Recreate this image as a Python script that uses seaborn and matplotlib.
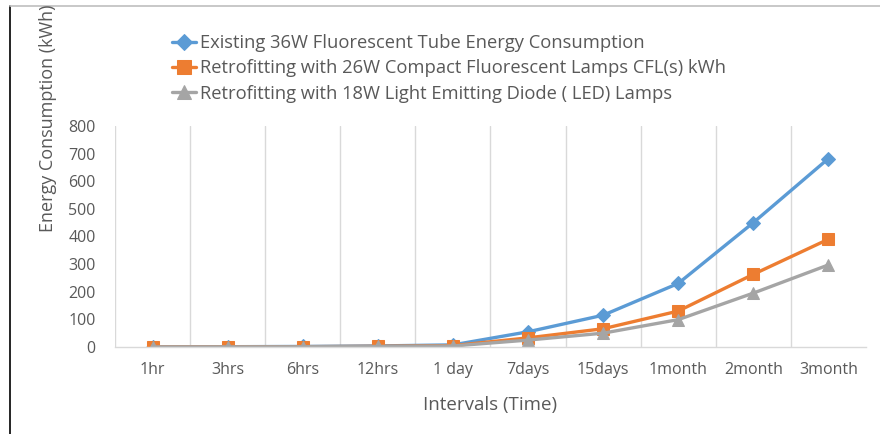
import numpy as np
import pandas as pd
import matplotlib
matplotlib.use("Agg")
import matplotlib.pyplot as plt
import seaborn as sns
from matplotlib.lines import Line2D

# Data
intervals = ['1hr', '3hrs', '6hrs', '12hrs', '1 day', '7days', '15days', '1month', '2month', '3month']
fluorescent_36w = [0.3, 1.0, 1.9, 3.8, 7.6, 55, 115, 230, 450, 682]
cfl_26w = [0.2, 0.6, 1.2, 2.4, 4.8, 33, 66, 130, 263, 390]
led_18w = [0.15, 0.45, 0.9, 1.8, 3.6, 25, 50, 99, 195, 297]

series_names = ['Existing 36W Fluorescent Tube Energy Consumption',
                'Retrofitting with 26W Compact Fluorescent Lamps CFL(s) kWh',
                'Retrofitting with 18W Light Emitting Diode ( LED) Lamps']
colors = ['#5B9BD5', '#ED7D31', '#A5A5A5']
markers = ['D', 's', '^']
marker_sizes = [7, 8.5, 8.5]

sns.set_style('white')
plt.rcParams['font.family'] = ['Open Sans', 'DejaVu Sans']

fig = plt.figure(figsize=(8.8, 4.34), dpi=100)
ax = fig.add_axes([0.1307, 0.2005, 0.8533, 0.5092])

x = np.arange(len(intervals))
for vals, name, c, m, ms in zip([fluorescent_36w, cfl_26w, led_18w], series_names,
                                colors, markers, marker_sizes):
    sns.lineplot(x=x, y=vals, ax=ax, color=c, marker=m, markersize=ms,
                 markeredgecolor=c, linewidth=2.4, label=name)

ax.set_xlim(-0.5, len(intervals) - 0.5)
ax.set_ylim(0, 800)
ax.set_yticks(range(0, 801, 100))
ax.set_xticks(x)
ax.set_xticklabels(intervals)
ax.tick_params(axis='both', length=0, colors='#595959', labelsize=11.5)
ax.tick_params(axis='x', pad=11)
ax.tick_params(axis='y', pad=14)

# vertical gridlines between categories
for b in np.arange(-0.5, len(intervals) - 1, 1.0):
    ax.axvline(b, color='#D9D9D9', linewidth=1, zorder=0)

for s in ['top', 'right', 'left']:
    ax.spines[s].set_visible(False)
ax.spines['bottom'].set_color('#D9D9D9')
ax.spines['bottom'].set_linewidth(1)

ax.set_xlabel('')
ax.set_ylabel('')
fig.text(490 / 880, 1 - 405 / 434, 'Intervals (Time)', ha='center', va='center',
         fontsize=13.5, color='#595959')
fig.text(48 / 880, 1 - 232 / 434, 'Energy Consumption (kWh)', rotation=90,
         ha='center', va='bottom', fontsize=13, color='#595959')

handles, labels = ax.get_legend_handles_labels()
ax.legend(handles, labels, loc='upper left', bbox_to_anchor=(172 / 880, 1 - 34 / 434),
          bbox_transform=fig.transFigure, frameon=False, fontsize=13.2,
          handlelength=1.3, handletextpad=0.2, labelspacing=0.4,
          labelcolor='#595959', borderaxespad=0, borderpad=0, markerscale=1.2)

# outer frame edges visible in the reference
fig.add_artist(Line2D([10 / 880, 10 / 880], [0, 1 - 6 / 434], color='black', linewidth=1.2))
fig.add_artist(Line2D([10 / 880, 1], [1 - 6 / 434, 1 - 6 / 434], color='#BFBFBF', linewidth=1.2))

fig.savefig('out.png', dpi=100)
